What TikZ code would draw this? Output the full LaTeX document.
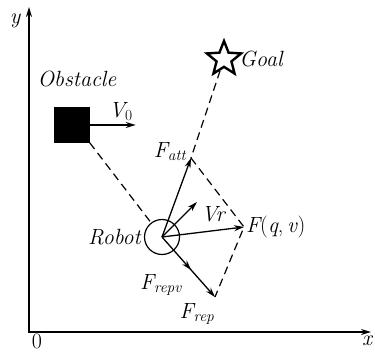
\documentclass[tikz,border=0pt]{standalone}
\usepackage{fontspec}
\usetikzlibrary{arrows.meta,positioning,shapes.geometric,decorations.markings}
\newcommand{\forcelbl}[2]{\textit{#1}\textsubscript{\textit{#2}}}

\begin{document}
\begin{tikzpicture}[x=1pt,y=-1pt,
        axis/.style={line width=1.5pt,{Stealth[length=10pt,width=6pt]}-{Stealth[length=10pt,width=6pt]}},
        vec/.style={line width=1.3pt,-{Stealth[length=10pt,width=6pt]}},
        guide/.style={line width=1.2pt,dash pattern=on 8pt off 5pt},
        lbl/.style={font=\rmfamily\fontsize{22}{26}\selectfont\itshape,inner sep=1pt}
    ]
        \useasboundingbox (0,0) rectangle (375,353);
        % axes
        \coordinate (origin) at (29,332);
        \coordinate (xend) at (371,332);
        \coordinate (yend) at (29,7);
        \draw[axis] (xend) -- (origin) -- (yend);
        \node[lbl] (ylbl) at (15,21) {y};
        \node[lbl,font=\rmfamily\fontsize{22}{26}\selectfont,inner sep=0pt] (zero) at (37,341) {0};
        \node[lbl,inner sep=0pt] (xlbl) at (367,341) {x};
        % obstacle
        \node[draw,fill=black,minimum size=35pt,inner sep=0pt] (obst) at (72,125) {};
        \node[lbl] (obstlbl) at (77,79) {Obstacle};
        \coordinate[right=46pt of obst.east] (v0tip);
        \draw[vec] (obst.east) -- (v0tip);
        \node[lbl] (v0lbl) at (121,112) {V\textsubscript{\upshape 0}};
        % goal
        \node[star,star points=5,star point ratio=2.3,draw,line width=2.4pt,minimum size=36pt,inner sep=0pt] (goal) at (224,59) {};
        \node[lbl,right=2pt of goal] (goallbl) {Goal};
        % robot and forces
        \node[circle,draw,line width=1.2pt,minimum size=35pt,inner sep=0pt] (robot) at (162,237) {};
        \node[lbl,left=2pt of robot] (robotlbl) {Robot};
        \coordinate (att) at (191,158);
        \coordinate (vr) at (197,202);
        \coordinate (fqv) at (244,227);
        \coordinate (rep) at (215,297);
        \draw[guide] (obst.south east) -- (robot);
        \draw[guide] (goal) -- (att);
        \draw[guide] (att) -- (fqv) -- (rep);
        \draw[vec] (robot.center) -- (att);
        \draw[vec] (robot.center) -- (vr);
        \draw[vec] (robot.center) -- (fqv);
        \draw[vec,decoration={markings,mark=at position 0.55 with {\arrow{Stealth[length=10pt,width=6pt]}}},postaction={decorate}] (robot.center) -- (rep);
        \node[lbl] (attlbl) at (170,152) {\forcelbl{F}{att}};
        \node[lbl] (vrlbl) at (213,214) {Vr};
        \node[lbl,right=1pt of fqv] (fqvlbl) {\textit{F}\upshape(\textit{q},\,\textit{v})};
        \node[lbl] (repvlbl) at (161,285) {\forcelbl{F}{repv}};
        \node[lbl] (replbl) at (197,314) {\forcelbl{F}{rep}};
\end{tikzpicture}
\end{document}
